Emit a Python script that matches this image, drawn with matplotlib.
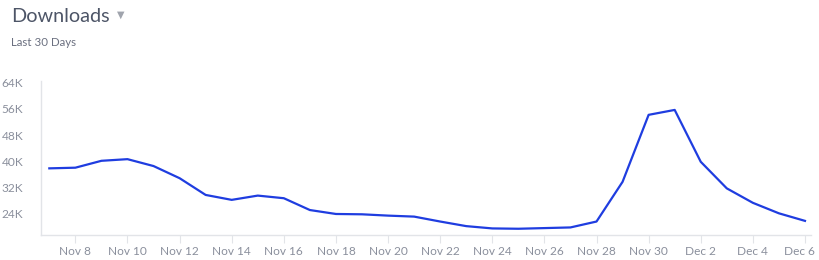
import matplotlib
matplotlib.use("Agg")
import matplotlib.pyplot as plt
import matplotlib.dates as mdates
import matplotlib.transforms as mtransforms
import numpy as np
import pandas as pd

plt.rcParams['font.family'] = ['Lato', 'DejaVu Sans']

dates = pd.date_range("2023-11-07", "2023-12-06", freq="D")
downloads_k = [37.9, 38.1, 40.2, 40.7, 38.6, 34.9, 29.8, 28.3, 29.6, 28.8,
               25.2, 24.0, 23.9, 23.5, 23.2, 21.7, 20.3, 19.6, 19.5, 19.7,
               19.9, 21.7, 33.8, 54.2, 55.7, 39.9, 31.8, 27.4, 24.2, 21.9]
yticks_k = [24, 32, 40, 48, 56, 64]
title = "Downloads"
subtitle = "Last 30 Days"

fig = plt.figure(figsize=(8.19, 2.60), dpi=100)
ax = fig.add_axes([0.0504, 0.0962, 0.9395, 0.5934])

ax.plot(dates, downloads_k, color="#1f3de0", lw=1.6, solid_joinstyle="round")

ax.set_ylim(17.6, 64.6)
ax.set_xlim(dates[0] - pd.Timedelta(hours=7.4), dates[-1] + pd.Timedelta(hours=5.3))
ax.set_yticks(yticks_k)
ax.set_yticklabels([f"{v}K" for v in yticks_k])

ax.xaxis.set_major_locator(mdates.DayLocator(bymonthday=[8, 10, 12, 14, 16, 18, 20, 22, 24, 26, 28, 30, 2, 4, 6]))
ax.xaxis.set_major_formatter(mdates.DateFormatter("%b %-d"))

for s in ["top", "right"]:
    ax.spines[s].set_visible(False)
for s in ["left", "bottom"]:
    ax.spines[s].set_color("#e2e4e8")
    ax.spines[s].set_linewidth(1.0)

ax.tick_params(axis="y", length=0, pad=13, labelsize=8.6, labelcolor="#8a8f9c")
ax.tick_params(axis="x", length=6, width=0.8, color="#e2e4e8", pad=2,
               labelsize=8.6, labelcolor="#8a8f9c")

fig.canvas.draw()
last = ax.get_xticklabels()[-1]
last.set_transform(last.get_transform() +
                   mtransforms.ScaledTranslation(-6/100, 0, fig.dpi_scale_trans))

fig.text(11/819, 1 - 17/260, title, fontsize=14.3, color="#4d5567", va="center", ha="left")
fig.text(117/819, 1 - 15/260, "▼", fontsize=7, color="#a0a4ad", va="center", ha="left",
         family=["DejaVu Sans"])
fig.text(11/819, 1 - 42/260, subtitle, fontsize=8.3, color="#6b7080", va="center", ha="left")

fig.savefig("out.png", dpi=100)
